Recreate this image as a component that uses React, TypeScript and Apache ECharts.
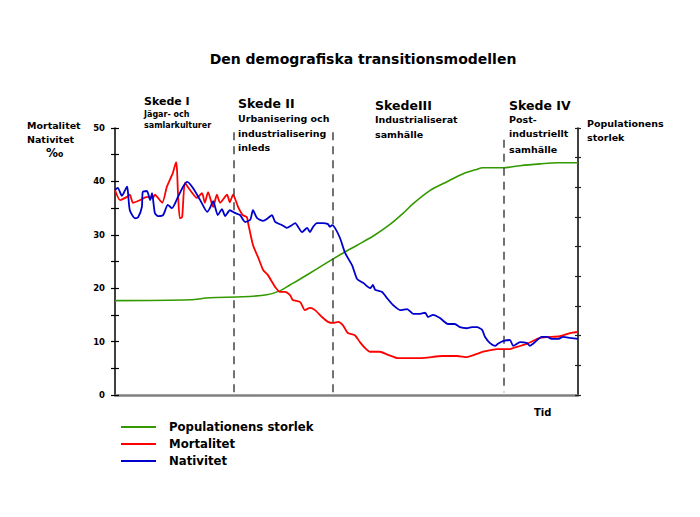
import React, { useEffect, useRef } from "react";
import * as echarts from "echarts";

const FONT = "'DejaVu Sans', Verdana, sans-serif";

// Time axis runs 0..100 (arbitrary units, "Tid")
const mortX = [0, 1.1, 2.6, 3.2, 3.9, 5.4, 6.9, 8.2, 8.6, 10.2, 11.2, 12.5, 13.2, 13.4, 13.6, 14.0, 14.5, 15.1, 16.2, 17.7, 18.8, 19.4, 20.1, 21.2, 22.0, 22.7, 24.2, 24.8, 25.5, 26.6, 27.6, 28.5, 28.7, 29.8, 30.9, 32.0, 33.0, 33.9, 34.6, 35.6, 36.7, 37.8, 38.4, 40.0, 41.0, 42.1, 43.2, 44.7, 46.0, 47.1, 48.2, 49.2, 50.3, 51.8, 52.9, 54.0, 55.1, 57.2, 59.0, 61.1, 65.9, 70.8, 73.9, 76.0, 78.2, 79.5, 82.5, 85.3, 86.0, 89.0, 91.8, 96.1, 98.3, 100];
const mortalitet = [38.4, 36.5, 37.1, 37.5, 36.0, 36.5, 37.1, 36.9, 37.5, 36.0, 39.0, 41.6, 43.6, 42.1, 37.8, 33.1, 33.3, 39.7, 38.4, 36.9, 37.8, 36.0, 38.0, 35.2, 37.5, 36.0, 37.5, 36.1, 37.5, 35.2, 33.7, 33.3, 32.4, 28.1, 25.8, 23.4, 22.5, 21.2, 20.2, 19.3, 19.3, 18.7, 17.8, 17.4, 15.9, 16.3, 15.9, 14.6, 13.7, 13.5, 13.7, 13.1, 11.6, 11.2, 9.9, 8.8, 8.1, 8.1, 7.5, 6.9, 6.9, 7.3, 7.3, 7.1, 7.7, 8.1, 8.6, 8.6, 8.8, 9.6, 10.7, 11.0, 11.6, 11.8];

const natX = [0, 0.6, 1.5, 2.6, 2.8, 3.2, 4.3, 5.0, 5.8, 6.0, 6.9, 7.6, 8.0, 8.6, 9.3, 10.4, 11.4, 12.3, 13.6, 14.7, 15.6, 16.8, 18.4, 19.9, 20.5, 21.2, 22.2, 23.1, 23.8, 24.8, 25.9, 27.0, 28.1, 29.2, 29.8, 30.7, 32.0, 33.0, 33.9, 34.6, 36.1, 37.1, 38.2, 38.9, 40.4, 41.5, 42.1, 42.8, 43.6, 44.9, 46.0, 46.4, 46.9, 47.5, 48.6, 49.7, 51.2, 52.3, 53.6, 55.1, 55.7, 56.2, 57.7, 58.7, 60.0, 61.6, 63.1, 64.4, 65.9, 67.0, 67.6, 68.7, 70.2, 71.9, 73.4, 74.5, 76.0, 77.1, 78.2, 79.3, 79.9, 81.0, 82.1, 82.7, 83.8, 85.3, 86.0, 87.5, 89.0, 89.6, 90.3, 92.2, 93.3, 94.4, 95.7, 96.8, 98.3, 100];
const nativitet = [38.4, 38.8, 37.3, 39.0, 38.0, 34.6, 33.1, 33.3, 35.2, 38.0, 38.2, 36.5, 37.8, 34.1, 33.5, 33.7, 35.6, 35.0, 37.1, 39.0, 39.9, 38.8, 36.5, 34.3, 35.0, 36.3, 33.7, 34.8, 33.5, 34.6, 34.1, 33.7, 32.4, 32.8, 34.6, 33.1, 32.6, 33.1, 33.7, 32.4, 31.8, 31.3, 31.8, 32.2, 30.5, 31.3, 30.5, 31.5, 32.2, 32.2, 32.0, 31.5, 31.8, 31.3, 29.4, 26.6, 24.3, 21.7, 21.0, 20.0, 20.6, 19.7, 19.3, 18.2, 16.9, 15.9, 16.1, 15.2, 15.2, 15.4, 14.6, 15.0, 14.4, 13.3, 13.3, 12.7, 12.5, 12.7, 12.7, 12.2, 10.9, 9.7, 9.2, 9.6, 10.1, 10.3, 9.2, 9.9, 9.7, 9.2, 9.6, 10.9, 10.9, 10.5, 10.5, 10.9, 10.7, 10.5];

// Population size on an unlabeled right axis (0..9 ticks)
const popX = [0, 16.2, 20.5, 27.6, 32.8, 35.6, 37.8, 40.0, 43.6, 46.4, 49.2, 52.3, 55.7, 59.4, 62.2, 64.4, 68.0, 71.7, 75.2, 77.8, 79.5, 83.8, 87.5, 91.8, 95.5, 100];
const populationensStorlek = [3.18, 3.21, 3.28, 3.31, 3.38, 3.51, 3.71, 3.91, 4.25, 4.52, 4.78, 5.05, 5.35, 5.75, 6.12, 6.45, 6.89, 7.19, 7.46, 7.59, 7.66, 7.66, 7.73, 7.79, 7.83, 7.83];

// Stage boundaries (time) and the top of each dashed line (‰ scale)
const stageX = [25.7, 47.1, 84.0];
const stageTop = [49.2, 49.2, 47.8];
const stageBottom = 0.5;

const seriesNames = ["Populationens storlek", "Mortalitet", "Nativitet"];
const seriesColors = ["#339900", "#ff0000", "#0000cc"];

const title = "Den demografiska transitionsmodellen";
const stageTitles = ["Skede I", "Skede II", "SkedeIII", "Skede IV"];
const stageTexts = [
  ["Jägar- och", "samlarkulturer"],
  ["Urbanisering och", "industrialisering", "inleds"],
  ["Industrialiserat", "samhälle"],
  ["Post-", "industriellt", "samhälle"],
];
const leftAxisTitle = ["Mortalitet", "Nativitet", "‰"];
const rightAxisTitle = ["Populationens", "storlek"];
const xAxisTitle = "Tid";

function txt(text: string, x: number, y: number, size: number, align = "left") {
  return {
    type: "text",
    x,
    y,
    silent: true,
    style: {
      text,
      fill: "#000",
      fontFamily: FONT,
      fontWeight: "bold",
      fontSize: size,
      textAlign: align,
      textVerticalAlign: "middle",
    },
  };
}

export default function App() {
  const ref = useRef<HTMLDivElement>(null);
  useEffect(() => {
    const chart = echarts.init(ref.current!, null, { renderer: "svg" });
    const pair = (xs: number[], ys: number[]) => xs.map((x, i) => [x, ys[i]]);

    const stageSub: any[] = [];
    const stageLeft = [144, 238, 375, 509];
    const stageTitleY = [101, 103, 105, 105];
    const stageSubY = [
      [114, 125],
      [118, 133, 147],
      [119, 134],
      [119, 133, 149],
    ];
    const stageSubSize = [8, 9.5, 9.5, 9.5];
    stageTitles.forEach((t, i) => {
      stageSub.push(txt(t, stageLeft[i], stageTitleY[i], i === 0 ? 11 : 12.5));
      stageTexts[i].forEach((s, j) => stageSub.push(txt(s, stageLeft[i], stageSubY[i][j], stageSubSize[i])));
    });

    const option: any = {
      animation: false,
      backgroundColor: "#fff",
      grid: { left: 115, right: 122, top: 128, bottom: 122, containLabel: false, outerBoundsMode: "none" },
      xAxis: {
        type: "value",
        min: 0,
        max: 100,
        axisLine: { onZero: false, lineStyle: { color: "#808080", width: 2.5 } },
        axisTick: { show: false },
        axisLabel: { show: false },
        splitLine: { show: false },
      },
      yAxis: [
        {
          type: "value",
          position: "left",
          min: 0,
          max: 50,
          interval: 5,
          axisLine: { show: true, onZero: false, lineStyle: { color: "#000", width: 1.5 } },
          axisTick: { show: true, length: 4, lineStyle: { color: "#000", width: 1.2 } },
          axisLabel: {
            margin: 10,
            color: "#000",
            fontFamily: FONT,
            fontWeight: "bold",
            fontSize: 8.5,
            formatter: (v: number) => (v % 10 === 0 ? String(v) : ""),
          },
          splitLine: { show: false },
        },
        {
          type: "value",
          position: "left",
          min: 0,
          max: 50,
          interval: 5,
          axisLine: { show: false, onZero: false },
          axisTick: { show: true, inside: true, length: 4, lineStyle: { color: "#000", width: 1.2 } },
          axisLabel: { show: false },
          splitLine: { show: false },
        },
        {
          type: "value",
          position: "right",
          min: 0,
          max: 9,
          interval: 1,
          axisLine: { show: true, onZero: false, lineStyle: { color: "#000", width: 1.5 } },
          axisTick: { show: true, length: 3, lineStyle: { color: "#222", width: 1.2 } },
          axisLabel: { show: false },
          splitLine: { show: false },
        },
        {
          type: "value",
          position: "right",
          min: 0,
          max: 9,
          interval: 1,
          axisLine: { show: false, onZero: false },
          axisTick: { show: true, inside: true, length: 3, lineStyle: { color: "#222", width: 1.2 } },
          axisLabel: { show: false },
          splitLine: { show: false },
        },
      ],
      legend: {
        data: seriesNames,
        orient: "vertical",
        left: 120,
        top: 420,
        padding: 0,
        itemWidth: 35,
        itemHeight: 14,
        itemGap: 3,
        itemStyle: { opacity: 0 },
        lineStyle: { width: 2 },
        textStyle: {
          color: "#000",
          fontFamily: FONT,
          fontWeight: "bold",
          fontSize: 11.7,
          lineHeight: 14,
          padding: [0, 0, 0, 8],
        },
      },
      series: [
        {
          name: seriesNames[0],
          type: "line",
          yAxisIndex: 2,
          data: pair(popX, populationensStorlek),
          symbol: "none",
          smooth: 0.3,
          color: seriesColors[0],
          lineStyle: { width: 1.6, color: seriesColors[0] },
          z: 3,
        },
        {
          name: seriesNames[1],
          type: "line",
          yAxisIndex: 0,
          data: pair(mortX, mortalitet),
          symbol: "none",
          smooth: 0.2,
          color: seriesColors[1],
          lineStyle: { width: 1.8, color: seriesColors[1] },
          z: 4,
          markLine: {
            silent: true,
            symbol: ["none", "none"],
            label: { show: false },
            lineStyle: { type: [8, 6], color: "#444", width: 1.5 },
            data: stageX.map((x, i) => [
              { coord: [x, stageTop[i]] },
              { coord: [x, stageBottom] },
            ]),
          },
        },
        {
          name: seriesNames[2],
          type: "line",
          yAxisIndex: 0,
          data: pair(natX, nativitet),
          symbol: "none",
          smooth: 0.2,
          color: seriesColors[2],
          lineStyle: { width: 1.8, color: seriesColors[2] },
          z: 5,
        },
      ],
      graphic: [
        txt(title, 363, 59, 14, "center"),
        ...stageSub,
        txt(leftAxisTitle[0], 27, 125, 9.5),
        txt(leftAxisTitle[1], 27, 139, 9.5),
        txt(leftAxisTitle[2], 46, 153, 12),
        txt(rightAxisTitle[0], 587, 123, 9.5),
        txt(rightAxisTitle[1], 587, 137, 9.5),
        txt(xAxisTitle, 534, 412, 10),
      ],
    };
    chart.setOption(option);
    return () => chart.dispose();
  }, []);
  return <div ref={ref} style={{ position: "absolute", left: 0, top: 0, width: 700, height: 517 }} />;
}
